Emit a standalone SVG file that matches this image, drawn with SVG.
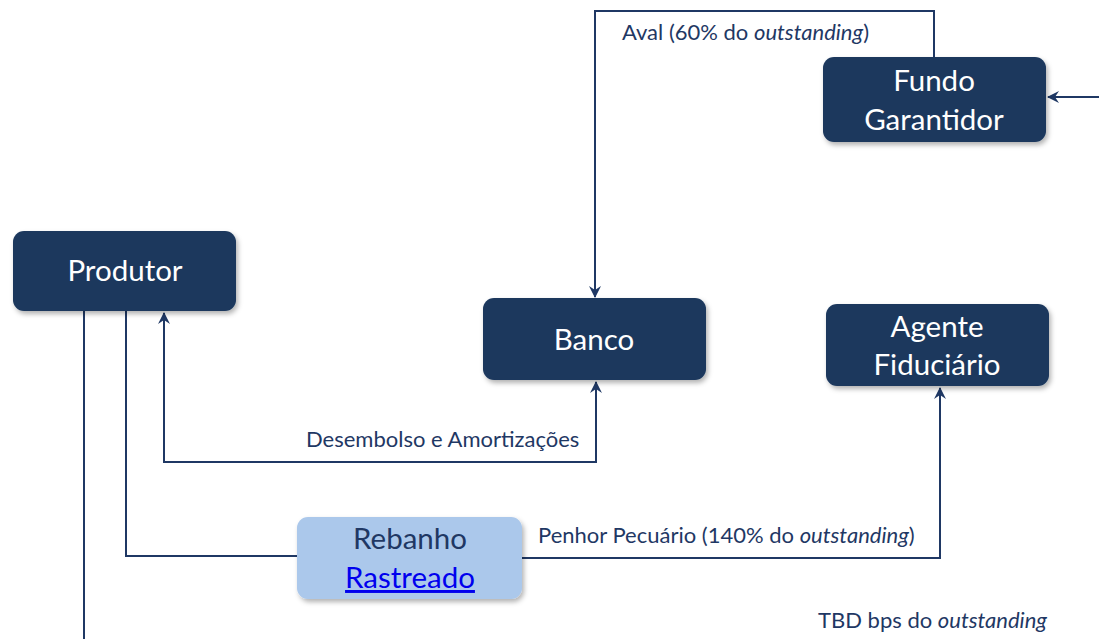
<svg xmlns="http://www.w3.org/2000/svg" width="1099" height="639" viewBox="0 0 1099 639">
<defs>
<style>
.node{fill:#1B375D;}
.light{fill:#ABC8EB;}
.nt{font-family:Lato,"Liberation Sans",sans-serif;font-size:29.5px;fill:#ffffff;text-anchor:middle;}
.lt{font-family:Lato,"Liberation Sans",sans-serif;font-size:29.5px;fill:#1F3864;text-anchor:middle;}
.lbl{font-family:Lato,"Liberation Sans",sans-serif;font-size:22px;fill:#1F3864;}
.conn{fill:none;stroke:#1F3864;stroke-width:2;}
.link{fill:#0000EE;text-decoration:underline;}
</style>
<marker id="arr" viewBox="0 0 12 12" refX="11" refY="6" markerWidth="12" markerHeight="12" markerUnits="userSpaceOnUse" orient="auto">
<path d="M0,0 L12,6 L0,12 L4,6 Z" fill="#1F3864"/>
</marker>
<filter id="sh" x="-10%" y="-10%" width="130%" height="140%">
<feDropShadow dx="2" dy="3" stdDeviation="2.5" flood-color="#000" flood-opacity="0.3"/>
</filter>
</defs>
<rect width="1099" height="639" fill="#ffffff"/>
<g id="connectors">
<path class="conn" d="M934,57 V11 H595 V297" marker-end="url(#arr)"/>
<path class="conn" d="M1099,97 H1048" marker-end="url(#arr)"/>
<path class="conn" d="M596,462 H164 V313" marker-end="url(#arr)"/>
<path class="conn" d="M164,462 H596 V382" marker-end="url(#arr)"/>
<path class="conn" d="M126,311 V556 H297"/>
<path class="conn" d="M84,311 V639"/>
<path class="conn" d="M522,558 H940 V388" marker-end="url(#arr)"/>
</g>
<g id="labels">
<text class="lbl" x="622" y="40">Aval (60% do <tspan font-style="italic">outstanding</tspan>)</text>
<text class="lbl" x="306" y="447">Desembolso e Amortizações</text>
<text class="lbl" x="538" y="543">Penhor Pecuário (140% do <tspan font-style="italic">outstanding</tspan>)</text>
<text class="lbl" x="818" y="628">TBD bps do <tspan font-style="italic">outstanding</tspan></text>
</g>
<g id="fundo-garantidor">
<rect class="node" x="823" y="57" width="223" height="85" rx="11" filter="url(#sh)"/>
<text class="nt" x="934" y="91">Fundo</text>
<text class="nt" x="934" y="130">Garantidor</text>
</g>
<g id="produtor">
<rect class="node" x="13" y="231" width="223" height="80" rx="11" filter="url(#sh)"/>
<text class="nt" x="125" y="281">Produtor</text>
</g>
<g id="banco">
<rect class="node" x="483" y="298" width="223" height="82" rx="11" filter="url(#sh)"/>
<text class="nt" x="594" y="350">Banco</text>
</g>
<g id="agente-fiduciario">
<rect class="node" x="826" y="304" width="223" height="82" rx="11" filter="url(#sh)"/>
<text class="nt" x="937" y="337">Agente</text>
<text class="nt" x="937" y="375">Fiduciário</text>
</g>
<g id="rebanho-rastreado">
<rect class="light" x="297" y="517" width="225" height="82" rx="11" filter="url(#sh)"/>
<text class="lt" x="410" y="549">Rebanho</text>
<text class="lt link" x="410" y="588">Rastreado</text>
</g>
</svg>
